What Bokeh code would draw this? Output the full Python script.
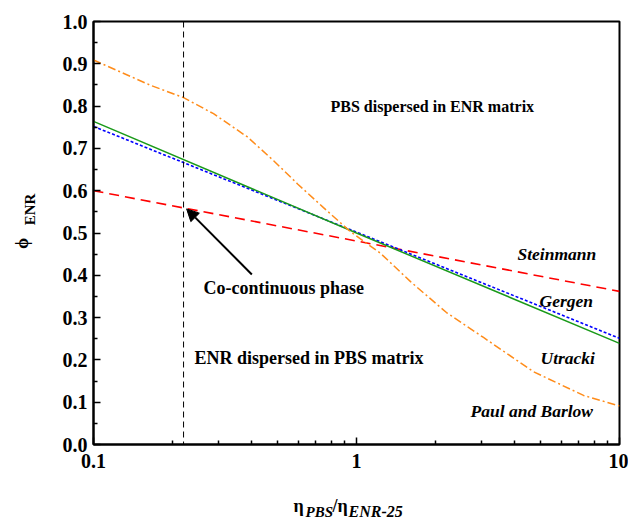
import math
from bokeh.plotting import figure
from bokeh.layouts import row, column
from bokeh.core.properties import value
from bokeh.models import (Label, Arrow, NormalHead, Span, FixedTicker,
                          PrintfTickFormatter, CustomJSTickFormatter, Range1d)
from bokeh.embed import file_html
from bokeh.resources import INLINE

# ---- data ----
x_lin = [0.1, 1.0, 10.0]
steinmann = [0.600, 0.481, 0.362]
gergen = [0.752, 0.502, 0.251]
paul_barlow = [0.764, 0.500, 0.239]

x_utracki = [0.1, 0.165, 0.22, 0.286, 0.385, 0.484, 0.597, 0.749, 0.949, 1.234, 1.605,
             2.198, 3.04, 4.71, 7.3, 10.0]
utracki = [0.909, 0.849, 0.820, 0.782, 0.727, 0.671, 0.616, 0.560, 0.503, 0.452, 0.385,
           0.312, 0.253, 0.172, 0.116, 0.091]

cocontinuous_x = 0.22
arrow_start = (0.40, 0.402)
arrow_end = (0.226, 0.557)

y_ticks = [0.0, 0.1, 0.2, 0.3, 0.4, 0.5, 0.6, 0.7, 0.8, 0.9, 1.0]
y_minor = [0.05, 0.15, 0.25, 0.35, 0.45, 0.55, 0.65, 0.75, 0.85, 0.95]
x_ticks = [0.1, 1, 10]
x_minor = [0.2, 0.3, 0.4, 0.5, 0.6, 0.7, 0.8, 0.9, 2, 3, 4, 5, 6, 7, 8, 9]

SERIF = "Liberation Serif"

# geometry (pixels)
L, R, T, B = 93, 619, 21, 444
W, H = 628, 520
LW = 40          # width of left label strip
TOPH = 475       # height of upper row
BOTH = H - TOPH  # height of bottom label strip

def px2x(px):
    return 10 ** (-1 + 2 * (px - L) / (R - L))

def py2y(py):
    return (B - py) / (B - T)

p = figure(width=W - LW, height=TOPH, x_axis_type="log", output_backend="svg",
           toolbar_location=None, min_border_left=L - LW, min_border_right=W - R,
           min_border_top=T, min_border_bottom=TOPH - B)
p.x_range = Range1d(0.1, 10)
p.y_range = Range1d(0.0, 1.0)
p.xgrid.visible = False
p.ygrid.visible = False
p.outline_line_color = "black"
p.outline_line_width = 2
p.background_fill_color = "white"
p.border_fill_color = "white"

p.yaxis.ticker = FixedTicker(ticks=y_ticks, minor_ticks=y_minor)
p.yaxis.formatter = PrintfTickFormatter(format="%.1f")
p.xaxis.ticker = FixedTicker(ticks=x_ticks, minor_ticks=x_minor)
p.xaxis.formatter = CustomJSTickFormatter(code="return (Math.round(tick*10)/10).toString();")
for ax in (p.xaxis, p.yaxis):
    ax.axis_line_width = 2
    ax.axis_line_color = "black"
    ax.major_tick_in = 7
    ax.major_tick_out = 0
    ax.minor_tick_in = 4
    ax.minor_tick_out = 0
    ax.major_tick_line_width = 1.5
    ax.minor_tick_line_width = 1.5
    ax.major_label_text_font = SERIF
    ax.major_label_text_font_style = "bold"
    ax.major_label_text_font_size = "20px"
    ax.major_label_text_color = "black"
p.yaxis.major_label_standoff = 6
p.xaxis.major_label_standoff = 9

# curves
p.line(x_lin, steinmann, line_color="#ff0000", line_width=1.6, line_dash="10 6")
p.line(x_lin, gergen, line_color="#0000ff", line_width=1.6, line_dash="3 2")
p.line(x_lin, paul_barlow, line_color="#1a9a1a", line_width=1.5)
p.line(x_utracki, utracki, line_color="#ff8c1a", line_width=1.5, line_dash="8 3 2 3")

p.add_layout(Span(location=cocontinuous_x, dimension="height", line_color="black",
                  line_width=1, line_dash="6 4"))

p.add_layout(Arrow(end=NormalHead(size=12, fill_color="black", line_color="black"),
                   x_start=arrow_start[0], y_start=arrow_start[1],
                   x_end=arrow_end[0], y_end=arrow_end[1],
                   line_width=2, line_color="black"))

def lab(text, px, py, italic=False, size="18px"):
    p.add_layout(Label(x=px2x(px), y=py2y(py), text=text, text_font=SERIF,
                       text_font_style="bold italic" if italic else "bold",
                       text_font_size=size, text_align="left",
                       text_baseline="middle", text_color="black"))

lab("PBS dispersed in ENR matrix", 330, 106, size="16px")
lab("Co-continuous phase", 203, 287)
lab("ENR dispersed in PBS matrix", 194, 357)
lab("Steinmann", 517, 253, italic=True, size="17.5px")
lab("Gergen", 539, 300, italic=True, size="17.5px")
lab("Utracki", 540, 357, italic=True, size="17.5px")
lab("Paul and Barlow", 470, 410, italic=True, size="17.5px")

def strip(w, h, yr):
    f = figure(width=w, height=h, output_backend="svg", toolbar_location=None,
               x_axis_location=None, y_axis_location=None, min_border=0)
    f.x_range = Range1d(0, w)
    f.y_range = yr
    f.xgrid.visible = False
    f.ygrid.visible = False
    f.outline_line_color = None
    f.background_fill_color = "white"
    f.border_fill_color = "white"
    return f

def stext(f, text, x, y, size, italic=False, align="left", angle=0.0):
    f.text(x=[x], y=[y], text=[text], angle=angle, text_font=value(SERIF),
           text_font_style="bold italic" if italic else "bold",
           text_font_size=size, text_align=align, text_baseline="middle",
           text_color="black")

# y axis label: phi_ENR (rotated); the strip's frame lines up with the main frame
pl = strip(LW, TOPH, Range1d(0.0, 1.0))
stext(pl, "ϕ", 21, py2y(243), "18px", align="center", angle=math.pi / 2)
stext(pl, "ENR", 29, py2y(209), "15px", align="center", angle=math.pi / 2)

# x axis label: eta_PBS / eta_ENR-25, bottom strip (data y = H - canvas y)
pb = strip(W, BOTH, Range1d(0, BOTH))
stext(pb, "η", 293, H - 505, "18px")
stext(pb, "PBS", 305, H - 511, "15px", italic=True)
stext(pb, "/η", 332, H - 505, "18px")
stext(pb, "ENR-25", 348, H - 511, "16px", italic=True)

layout = column(row(pl, p), pb)
open("out.html", "w").write(file_html(layout, INLINE))
